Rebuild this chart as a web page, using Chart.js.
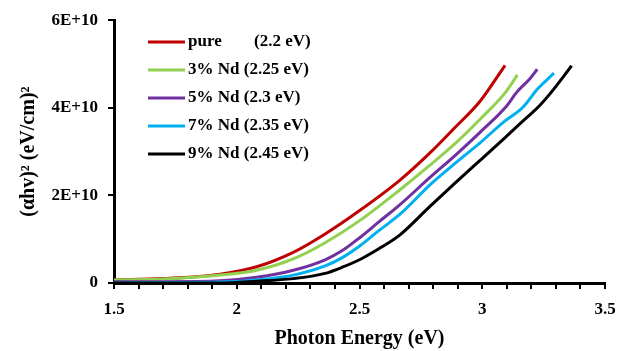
<!DOCTYPE html>
<html>
<head>
<meta charset="utf-8">
<script src="https://cdn.jsdelivr.net/npm/chart.js@4/dist/chart.umd.min.js"></script>
<style>
  html, body { margin: 0; padding: 0; background: #fff; }
  #wrap { width: 628px; height: 351px; }
</style>
</head>
<body>
<div id="wrap"><canvas id="tauc"></canvas></div>
<script>
// ─── DATA (y in (eV/cm)^2) ──────────────────────────────────────
const seriesNames = ['pure', '3% Nd', '5% Nd', '7% Nd', '9% Nd'];
const seriesGaps = ['(2.2 eV)', '(2.25 eV)', '(2.3 eV)', '(2.35 eV)', '(2.45 eV)'];
const seriesColors = ['#C00000', '#92D050', '#7030A0', '#00B0F0', '#000000'];

const pureX = [1.5, 1.7, 1.932, 2.081, 2.23, 2.36, 2.502, 2.665, 2.787, 2.889, 2.991, 3.093];
const pureY = [0.07e10, 0.10e10, 0.20e10, 0.37e10, 0.70e10, 1.12e10, 1.66e10, 2.35e10, 2.97e10, 3.55e10, 4.15e10, 4.97e10];

const nd3X = [1.5, 1.7, 1.932, 2.081, 2.23, 2.36, 2.502, 2.665, 2.787, 2.889, 2.991, 3.093, 3.143];
const nd3Y = [0.07e10, 0.09e10, 0.18e10, 0.29e10, 0.55e10, 0.92e10, 1.43e10, 2.13e10, 2.69e10, 3.18e10, 3.74e10, 4.34e10, 4.75e10];

const nd5X = [1.5, 1.7, 1.932, 2.081, 2.23, 2.36, 2.43, 2.502, 2.58, 2.665, 2.787, 2.889, 2.991, 3.093, 3.143, 3.195, 3.224];
const nd5Y = [0.03e10, 0.03e10, 0.05e10, 0.13e10, 0.29e10, 0.53e10, 0.74e10, 1.04e10, 1.40e10, 1.79e10, 2.41e10, 2.91e10, 3.44e10, 4.0e10, 4.37e10, 4.67e10, 4.88e10];

const nd7X = [1.5, 1.7, 1.932, 2.081, 2.23, 2.36, 2.43, 2.502, 2.58, 2.665, 2.787, 2.889, 2.991, 3.093, 3.154, 3.181, 3.222, 3.292];
const nd7Y = [0.0, 0.01e10, 0.02e10, 0.07e10, 0.18e10, 0.39e10, 0.58e10, 0.85e10, 1.20e10, 1.57e10, 2.24e10, 2.73e10, 3.20e10, 3.70e10, 3.95e10, 4.11e10, 4.41e10, 4.79e10];

const nd9X = [1.5, 1.7, 1.932, 2.081, 2.23, 2.36, 2.43, 2.51, 2.59, 2.665, 2.787, 2.889, 2.991, 3.093, 3.154, 3.235, 3.289, 3.364];
const nd9Y = [0.0, 0.0, 0.0, 0.04e10, 0.10e10, 0.22e10, 0.36e10, 0.56e10, 0.82e10, 1.10e10, 1.75e10, 2.28e10, 2.80e10, 3.32e10, 3.64e10, 4.06e10, 4.41e10, 4.96e10];

const xTickLabels = ['1.5', '2', '2.5', '3', '3.5'];
const yTickLabels = ['0', '2E+10', '4E+10', '6E+10'];

const allX = [pureX, nd3X, nd5X, nd7X, nd9X];
const allY = [pureY, nd3Y, nd5Y, nd7Y, nd9Y];

const FONT = "'Liberation Serif', 'Times New Roman', serif";

// legend drawn in the upper-left of the plot, like the original
const insideLegend = {
    id: 'insideLegend',
    afterDraw(chart) {
        const ctx = chart.ctx;
        ctx.save();
        ctx.font = 'bold 17px ' + FONT;
        ctx.textBaseline = 'middle';
        ctx.fillStyle = '#000';
        seriesNames.forEach((name, i) => {
            const y = 42 + i * 28;
            ctx.strokeStyle = seriesColors[i];
            ctx.lineWidth = 3;
            ctx.beginPath();
            ctx.moveTo(148, y);
            ctx.lineTo(185, y);
            ctx.stroke();
            ctx.fillText(name, 188, y);
            const gx = i === 0 ? 254 : 188 + ctx.measureText(name + ' ').width;
            ctx.fillText(seriesGaps[i], gx, y);
        });
        ctx.restore();
    }
};

new Chart(document.getElementById('tauc'), {
    type: 'scatter',
    data: {
        datasets: seriesNames.map((name, i) => ({
            label: name + ' ' + seriesGaps[i],
            data: allX[i].map((x, j) => ({ x, y: allY[i][j] })),
            showLine: true,
            borderColor: seriesColors[i],
            backgroundColor: seriesColors[i],
            borderWidth: 3,
            pointRadius: 0,
            cubicInterpolationMode: 'monotone',
            order: 5 - i
        }))
    },
    options: {
        responsive: true,
        maintainAspectRatio: false,
        animation: false,
        layout: { padding: { top: 16, right: 23, left: 0, bottom: 0 } },
        plugins: {
            legend: { display: false },
            tooltip: { enabled: false }
        },
        scales: {
            x: {
                type: 'linear',
                min: 1.5,
                max: 3.5,
                afterFit: (s) => { s.height = 68; },
                afterBuildTicks: (s) => {
                    s.ticks = [];
                    for (let k = 15; k <= 35; k++) s.ticks.push({ value: k / 10 });
                },
                border: { display: true, color: '#000', width: 3 },
                grid: { drawOnChartArea: false, drawTicks: true, tickLength: 6, color: '#000', lineWidth: 2 },
                ticks: {
                    autoSkip: false,
                    maxRotation: 0,
                    padding: 10,
                    color: '#000',
                    font: { family: FONT, size: 17, weight: 'bold' },
                    callback: (v) => {
                        const k = Math.round(v * 10);
                        return k % 5 === 0 ? xTickLabels[(k - 15) / 5] : '';
                    }
                },
                title: {
                    display: true,
                    text: 'Photon Energy (eV)',
                    color: '#000',
                    padding: { top: 4, bottom: 0 },
                    font: { family: FONT, size: 20, weight: 'bold' }
                }
            },
            y: {
                min: 0,
                max: 6e10,
                afterFit: (s) => { s.width = 114; },
                afterBuildTicks: (s) => {
                    s.ticks = yTickLabels.map((t, i) => ({ value: i * 2e10 }));
                },
                border: { display: true, color: '#000', width: 3 },
                grid: { drawOnChartArea: false, drawTicks: true, tickLength: 6, color: '#000', lineWidth: 2 },
                ticks: {
                    padding: 10,
                    color: '#000',
                    font: { family: FONT, size: 17, weight: 'bold' },
                    callback: (v) => yTickLabels[Math.round(v / 2e10)]
                },
                title: {
                    display: true,
                    text: '(\u03B1hv)\u00B2 (eV/cm)\u00B2',
                    color: '#000',
                    padding: { top: 17, bottom: 0 },
                    font: { family: FONT, size: 20, weight: 'bold' }
                }
            }
        }
    },
    plugins: [insideLegend]
});
</script>
</body>
</html>
